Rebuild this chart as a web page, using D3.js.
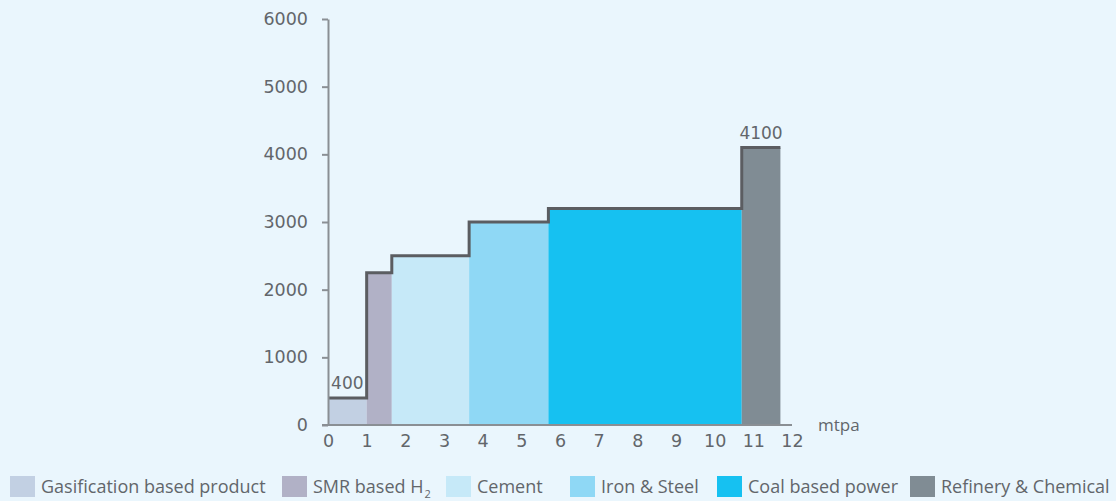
<!DOCTYPE html>
<html>
<head>
<meta charset="utf-8">
<script src="https://cdn.jsdelivr.net/npm/d3@7"></script>
<style>
  body { margin: 0; background: #eaf6fd; }
  svg { display: block; }
  text { font-family: "Open Sans", sans-serif; fill: #62666b; }
</style>
</head>
<body>
<svg id="chart" width="1116" height="501"></svg>
<script>
// Data

const categories = ["Gasification based product", "SMR based H2", "Cement", "Iron & Steel", "Coal based power", "Refinery & Chemical"];
const widths = [1, 0.65, 2.0, 2.05, 5.0, 1.0];       // mtpa per sector
const costs = [400, 2250, 2500, 3000, 3200, 4100];  // step heights
const colors = ["#c2d0e3", "#b1b1c6", "#c6e9f8", "#8fd8f5", "#16c1f1", "#808c94"];
const yTicks = [0, 1000, 2000, 3000, 4000, 5000, 6000];
const xTicks = [0, 1, 2, 3, 4, 5, 6, 7, 8, 9, 10, 11, 12];
const labelled = [0, 5]; // which steps get a value label

const numFont = "DejaVu Sans";

const svg = d3.select("#chart");

const x = d3.scaleLinear().domain([0, 12]).range([328, 792]);
const y = d3.scaleLinear().domain([0, 6000]).range([425, 19]);

// Build step segments from cumulative widths
let start = 0;
const steps = categories.map(function(c, i) {
    const s = { name: c, x0: start, x1: start + widths[i], v: costs[i], color: colors[i] };
    start += widths[i];
    return s;
});

// Bars
svg.append("g").selectAll("rect")
    .data(steps)
    .enter()
    .append("rect")
    .attr("x", d => x(d.x0))
    .attr("width", d => x(d.x1) - x(d.x0))
    .attr("y", d => y(d.v))
    .attr("height", d => y(0) - y(d.v))
    .style("fill", d => d.color);

// Step outline
const pts = [];
steps.forEach(function(d, i) {
    pts.push([x(d.x0), y(d.v)]);
    pts.push([x(d.x1), y(d.v)]);
});
svg.append("path")
    .attr("d", d3.line()(pts))
    .style("fill", "none")
    .style("stroke", "#5b5d61")
    .style("stroke-width", 3);

// Y axis
const yAxis = svg.append("g")
    .attr("transform", "translate(" + x(0) + ",0)")
    .call(d3.axisLeft(y).tickValues(yTicks).tickSize(6).tickSizeOuter(0).tickPadding(14).tickFormat(d3.format("d")));
yAxis.selectAll("path, line").style("stroke", "#8a8f94").style("stroke-width", 2);
yAxis.selectAll("text").style("font-size", "17.5px").style("fill", "#62666b").style("font-family", numFont);

// X axis
const xAxis = svg.append("g")
    .attr("transform", "translate(0," + y(0) + ")")
    .call(d3.axisBottom(x).tickValues(xTicks).tickSize(0).tickPadding(10));
xAxis.select(".domain").remove();
xAxis.append("line")
    .attr("x1", x(0) - 6).attr("x2", x(12))
    .style("stroke", "#8a8f94").style("stroke-width", 2);
xAxis.selectAll("text").style("font-size", "17.5px").style("fill", "#62666b").style("font-family", numFont);

svg.append("text")
    .attr("x", x(12) + 26)
    .attr("y", y(0) + 6)
    .style("font-size", "17px")
    .text("mtpa");

// Value labels
svg.selectAll(".vlabel")
    .data(labelled.map(i => steps[i]))
    .enter()
    .append("text")
    .attr("class", "vlabel")
    .attr("x", d => (x(d.x0) + x(d.x1)) / 2)
    .attr("y", d => y(d.v) - 9)
    .attr("text-anchor", "middle")
    .style("font-family", numFont)
    .style("font-size", "17px")
    .text(d => d.v);

// Legend
const legendX = [10, 282, 446, 570, 717, 910];
const legend = svg.append("g").selectAll("g")
    .data(steps)
    .enter()
    .append("g")
    .attr("transform", (d, i) => "translate(" + legendX[i] + ",476)");

legend.append("rect")
    .attr("width", 25).attr("height", 21)
    .style("fill", d => d.color);

legend.append("text")
    .attr("x", 31)
    .attr("y", 17)
    .style("font-size", "18px")
    .each(function(d) {
        const t = d3.select(this);
        if (d.name === "SMR based H2") {
            t.append("tspan").text("SMR based H");
            t.append("tspan").attr("dy", 5).attr("dx", 1).style("font-size", "11px").text("2");
        } else {
            t.text(d.name);
        }
    });
</script>
</body>
</html>
